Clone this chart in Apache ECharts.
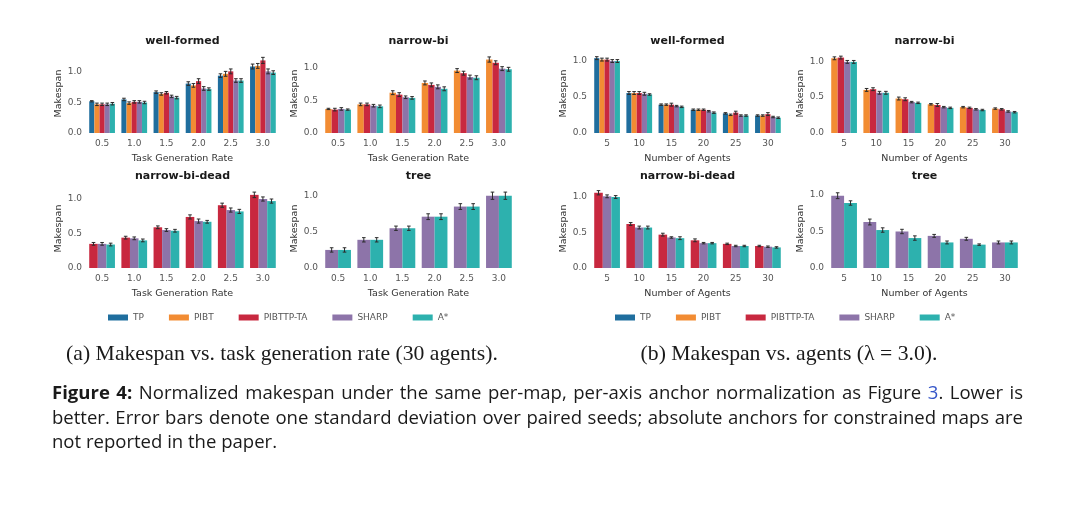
<!DOCTYPE html>
<html>
<head>
<meta charset="utf-8">
<title>Normalized makespan</title>
<script src="https://cdn.jsdelivr.net/npm/echarts@6/dist/echarts.min.js"></script>
<style>
html, body { margin: 0; padding: 0; background: #fff; }
#main { width: 1080px; height: 515px; }
</style>
</head>
<body>
<div id="main"></div>
<script>
const methods = ['TP', 'PIBT', 'PIBTTP-TA', 'SHARP', 'A*'];
const colors = ['#1f6e9e', '#f28c33', '#c8283f', '#8d74a9', '#2db1ae'];

const rateLabels = ['0.5', '1.0', '1.5', '2.0', '2.5', '3.0'];
const agentLabels = ['5', '10', '15', '20', '25', '30'];

// (a) makespan vs. task generation rate, 30 agents
// rows follow the methods present on each map
const wellFormedRate = [
  [0.52, 0.55, 0.67, 0.81, 0.94, 1.09],
  [0.47, 0.49, 0.64, 0.78, 0.97, 1.10],
  [0.47, 0.51, 0.66, 0.85, 1.01, 1.19],
  [0.47, 0.51, 0.60, 0.73, 0.86, 1.01],
  [0.48, 0.50, 0.58, 0.72, 0.86, 0.99]
];
const wellFormedRateStd = [
  [0.01, 0.02, 0.02, 0.03, 0.03, 0.04],
  [0.02, 0.02, 0.02, 0.03, 0.04, 0.04],
  [0.02, 0.02, 0.02, 0.04, 0.04, 0.05],
  [0.02, 0.02, 0.02, 0.03, 0.03, 0.04],
  [0.02, 0.02, 0.02, 0.02, 0.03, 0.03]
];
const narrowBiRate = [
  [0.37, 0.44, 0.62, 0.77, 0.96, 1.13],
  [0.36, 0.44, 0.59, 0.74, 0.92, 1.08],
  [0.37, 0.42, 0.55, 0.71, 0.86, 0.99],
  [0.36, 0.41, 0.54, 0.68, 0.85, 0.98]
];
const narrowBiRateStd = [
  [0.01, 0.02, 0.03, 0.03, 0.03, 0.04],
  [0.02, 0.02, 0.03, 0.03, 0.03, 0.03],
  [0.02, 0.02, 0.02, 0.03, 0.03, 0.03],
  [0.01, 0.02, 0.02, 0.03, 0.03, 0.03]
];
const narrowBiDeadRate = [
  [0.35, 0.44, 0.59, 0.74, 0.91, 1.06],
  [0.35, 0.43, 0.55, 0.68, 0.84, 1.00],
  [0.34, 0.40, 0.54, 0.67, 0.82, 0.97]
];
const narrowBiDeadRateStd = [
  [0.02, 0.02, 0.02, 0.03, 0.03, 0.04],
  [0.02, 0.02, 0.02, 0.03, 0.03, 0.03],
  [0.02, 0.02, 0.02, 0.02, 0.03, 0.03]
];
const treeRate = [
  [0.25, 0.39, 0.55, 0.71, 0.85, 1.00],
  [0.25, 0.39, 0.55, 0.71, 0.85, 1.00]
];
const treeRateStd = [
  [0.03, 0.03, 0.03, 0.04, 0.04, 0.05],
  [0.03, 0.03, 0.03, 0.04, 0.04, 0.05]
];

// (b) makespan vs. number of agents, lambda = 3.0
const wellFormedAgents = [
  [1.03, 0.55, 0.39, 0.32, 0.27, 0.24],
  [1.01, 0.55, 0.39, 0.32, 0.25, 0.24],
  [1.01, 0.55, 0.39, 0.32, 0.28, 0.26],
  [0.99, 0.54, 0.37, 0.30, 0.24, 0.22],
  [0.99, 0.53, 0.36, 0.28, 0.24, 0.21]
];
const wellFormedAgentsStd = [
  [0.02, 0.02, 0.01, 0.01, 0.01, 0.01],
  [0.02, 0.02, 0.01, 0.01, 0.01, 0.01],
  [0.02, 0.02, 0.02, 0.01, 0.02, 0.02],
  [0.02, 0.02, 0.01, 0.01, 0.01, 0.01],
  [0.02, 0.01, 0.01, 0.01, 0.01, 0.01]
];
const narrowBiAgents = [
  [1.04, 0.60, 0.48, 0.40, 0.36, 0.34],
  [1.05, 0.61, 0.47, 0.39, 0.35, 0.33],
  [0.99, 0.56, 0.43, 0.36, 0.33, 0.30],
  [0.99, 0.56, 0.42, 0.35, 0.32, 0.29]
];
const narrowBiAgentsStd = [
  [0.02, 0.02, 0.02, 0.01, 0.01, 0.01],
  [0.02, 0.02, 0.02, 0.02, 0.01, 0.01],
  [0.02, 0.02, 0.01, 0.01, 0.01, 0.01],
  [0.02, 0.02, 0.01, 0.01, 0.01, 0.01]
];
const narrowBiDeadAgents = [
  [1.06, 0.62, 0.47, 0.39, 0.34, 0.31],
  [1.01, 0.57, 0.43, 0.35, 0.31, 0.30],
  [1.00, 0.57, 0.42, 0.35, 0.31, 0.29]
];
const narrowBiDeadAgentsStd = [
  [0.03, 0.02, 0.02, 0.02, 0.01, 0.01],
  [0.02, 0.02, 0.01, 0.01, 0.01, 0.01],
  [0.02, 0.02, 0.02, 0.01, 0.01, 0.01]
];
const treeAgents = [
  [0.99, 0.63, 0.50, 0.44, 0.40, 0.35],
  [0.89, 0.52, 0.41, 0.35, 0.32, 0.35]
];
const treeAgentsStd = [
  [0.04, 0.04, 0.03, 0.02, 0.02, 0.02],
  [0.03, 0.03, 0.03, 0.02, 0.01, 0.02]
];

const captionLines = [
  '*Figure* *4:* Normalized makespan under the same per-map, per-axis anchor normalization as Figure {3}. Lower is',
  'better. Error bars denote one standard deviation over paired seeds; absolute anchors for constrained maps are',
  'not reported in the paper.'
];

const panels = [
  { title: 'well-formed', labels: rateLabels, xName: 'Task Generation Rate', left: 86, top: 54, max: 1.295, ids: [0, 1, 2, 3, 4], mean: wellFormedRate, std: wellFormedRateStd },
  { title: 'narrow-bi', labels: rateLabels, xName: 'Task Generation Rate', left: 322, top: 54, max: 1.215, ids: [1, 2, 3, 4], mean: narrowBiRate, std: narrowBiRateStd },
  { title: 'narrow-bi-dead', labels: rateLabels, xName: 'Task Generation Rate', left: 86, top: 189, max: 1.145, ids: [2, 3, 4], mean: narrowBiDeadRate, std: narrowBiDeadRateStd },
  { title: 'tree', labels: rateLabels, xName: 'Task Generation Rate', left: 322, top: 189, max: 1.093, ids: [3, 4], mean: treeRate, std: treeRateStd },
  { title: 'well-formed', labels: agentLabels, xName: 'Number of Agents', left: 591, top: 54, max: 1.087, ids: [0, 1, 2, 3, 4], mean: wellFormedAgents, std: wellFormedAgentsStd },
  { title: 'narrow-bi', labels: agentLabels, xName: 'Number of Agents', left: 828, top: 54, max: 1.10, ids: [1, 2, 3, 4], mean: narrowBiAgents, std: narrowBiAgentsStd },
  { title: 'narrow-bi-dead', labels: agentLabels, xName: 'Number of Agents', left: 591, top: 189, max: 1.113, ids: [2, 3, 4], mean: narrowBiDeadAgents, std: narrowBiDeadAgentsStd },
  { title: 'tree', labels: agentLabels, xName: 'Number of Agents', left: 828, top: 189, max: 1.082, ids: [3, 4], mean: treeAgents, std: treeAgentsStd }
];

const W = 193, H = 79;
const tickFont = 'DejaVu Sans';

// error bar drawn over bar k of n in a category group
function errorBar(k, n) {
  return function (params, api) {
    const x = api.value(0), m = api.value(1), s = api.value(2);
    const band = api.size([1, 0])[0];
    const gw = band * 0.8, bw = gw / n;
    const off = -gw / 2 + (k + 0.5) * bw;
    const hi = api.coord([x, m + s]);
    const lo = api.coord([x, m - s]);
    const cx = hi[0] + off;
    const c = 1.8;
    const st = { stroke: '#2b2b2b', lineWidth: 1 };
    return {
      type: 'group',
      children: [
        { type: 'line', shape: { x1: cx, y1: hi[1], x2: cx, y2: lo[1] }, style: st },
        { type: 'line', shape: { x1: cx - c, y1: hi[1], x2: cx + c, y2: hi[1] }, style: st },
        { type: 'line', shape: { x1: cx - c, y1: lo[1], x2: cx + c, y2: lo[1] }, style: st }
      ]
    };
  };
}

const grids = [], xAxes = [], yAxes = [], series = [], titles = [];
panels.forEach((p, g) => {
  grids.push({ left: p.left, top: p.top, width: W, height: H });
  titles.push({
    text: p.title, left: p.left + W / 2, top: p.top - 18, textAlign: 'center', padding: 0,
    textStyle: { fontFamily: tickFont, fontWeight: 'bold', fontSize: 11, color: '#1a1a1a' }
  });
  xAxes.push({
    type: 'category', gridIndex: g, data: p.labels,
    name: p.xName, nameLocation: 'middle', nameGap: 21,
    nameTextStyle: { fontFamily: tickFont, fontSize: 9.5, color: '#333' },
    axisLine: { show: false }, axisTick: { show: false },
    axisLabel: { fontFamily: tickFont, fontSize: 9, color: '#555', margin: 6 }
  });
  yAxes.push({
    type: 'value', gridIndex: g, min: 0, max: p.max, interval: 0.5,
    name: 'Makespan', nameLocation: 'middle', nameGap: 18,
    nameTextStyle: { fontFamily: tickFont, fontSize: 9.5, color: '#333' },
    axisLine: { show: false }, axisTick: { show: false }, splitLine: { show: false },
    axisLabel: {
      fontFamily: tickFont, fontSize: 9, color: '#555', margin: 4,
      showMaxLabel: false, formatter: v => v.toFixed(1)
    }
  });
  p.ids.forEach((id, k) => {
    series.push({
      name: methods[id], type: 'bar', xAxisIndex: g, yAxisIndex: g,
      data: p.mean[k], barGap: '0%', barCategoryGap: '20%',
      itemStyle: { color: colors[id] }
    });
    series.push({
      name: methods[id], type: 'custom', xAxisIndex: g, yAxisIndex: g,
      renderItem: errorBar(k, p.ids.length), silent: true, z: 5,
      encode: { x: 0, y: 1 },
      data: p.mean[k].map((m, i) => [i, m, p.std[k][i]])
    });
  });
});

function legendAt(left) {
  return {
    data: methods, left: left, top: 313, padding: 0, icon: 'rect', itemWidth: 20, itemHeight: 6, itemGap: 25,
    textStyle: { fontFamily: tickFont, fontSize: 9, color: '#555' }
  };
}

// caption text, justified line by line
const ctx = document.createElement('canvas').getContext('2d');
function measure(font, t) { ctx.font = font; return ctx.measureText(t).width; }
const capFamily = '"Open Sans"';
const capX0 = 52, capX1 = 1023, capY = [394, 418.5, 443];
// font size chosen so the longest line fits the text block with a little stretch
const capSize = Math.max(15, Math.min(19, 17 * (capX1 - capX0 - 10) / measure('17px ' + capFamily, captionLines[1])));
const capFont = capSize.toFixed(2) + 'px ' + capFamily;
const capBold = 'bold ' + capFont;

function wordPieces(w) {
  if (w.startsWith('*') && w.endsWith('*')) return [{ t: w.slice(1, -1), font: capBold, fill: '#1a1a1a' }];
  const out = [];
  w.split(/(\{[^}]*\})/).forEach(s => {
    if (!s) return;
    if (s.startsWith('{')) out.push({ t: s.slice(1, -1), font: capFont, fill: '#3556c9' });
    else out.push({ t: s, font: capFont, fill: '#1a1a1a' });
  });
  return out;
}

const graphics = [];
captionLines.forEach((line, li) => {
  const words = line.split(' ').map(wordPieces);
  const widths = words.map(ps => ps.reduce((a, p) => a + measure(p.font, p.t), 0));
  const total = widths.reduce((a, b) => a + b, 0);
  const last = li === captionLines.length - 1;
  const gap = last ? measure(capFont, ' ') : (capX1 - capX0 - total) / (words.length - 1);
  let x = capX0;
  words.forEach((ps, wi) => {
    let px = x;
    ps.forEach(p => {
      graphics.push({
        type: 'text', x: px, y: capY[li], silent: true,
        style: { text: p.t, font: p.font, fill: p.fill, textAlign: 'left', textVerticalAlign: 'middle', align: 'left', verticalAlign: 'middle' }
      });
      px += measure(p.font, p.t);
    });
    x += widths[wi] + gap;
  });
});

const subFont = '21.7px "Liberation Serif"';
[['(a) Makespan vs. task generation rate (30 agents).', 282], ['(b) Makespan vs. agents (\u03bb = 3.0).', 789]].forEach(s => {
  graphics.push({
    type: 'text', x: s[1], y: 354, silent: true,
    style: { text: s[0], font: subFont, fill: '#1a1a1a', textAlign: 'center', textVerticalAlign: 'middle', align: 'center', verticalAlign: 'middle' }
  });
});

const chart = echarts.init(document.getElementById('main'));
chart.setOption({
  backgroundColor: '#fff',
  animation: false,
  title: titles,
  legend: [legendAt(108), legendAt(615)],
  grid: grids,
  xAxis: xAxes,
  yAxis: yAxes,
  series: series,
  graphic: graphics
});
</script>
</body>
</html>
